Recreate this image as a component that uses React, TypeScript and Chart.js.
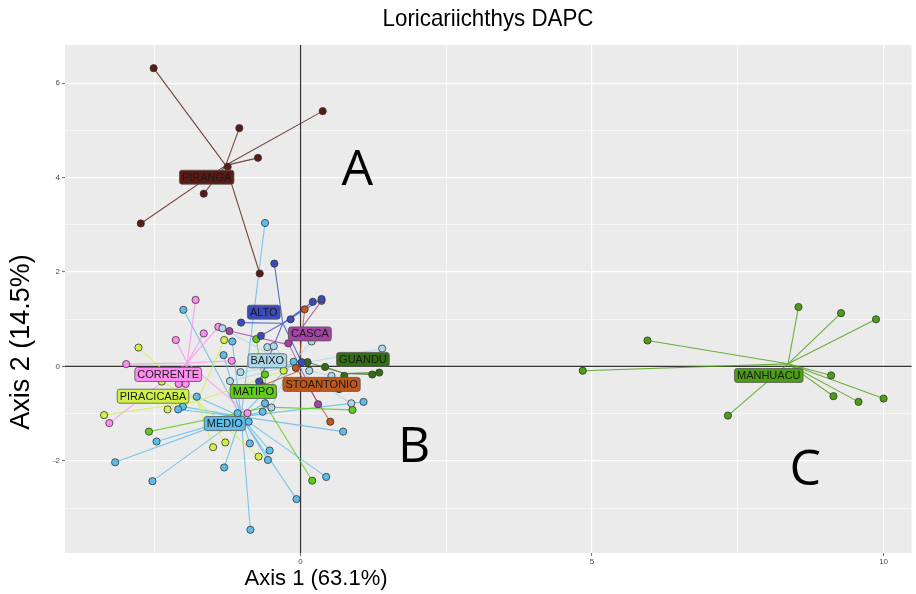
import { useEffect, useRef } from 'react';
import { Chart, registerables } from 'chart.js';

Chart.register(...registerables);

// ---------------- data ----------------
const GROUPS = ['PIRANGA', 'ALTO', 'CASCA', 'GUANDU', 'BAIXO', 'STOANTONIO', 'CORRENTE', 'MATIPO', 'PIRACICABA', 'MEDIO', 'MANHUACU'];

const PIRANGA_X = [-2.52, 0.38, -1.05, -0.73, -1.25, -1.66, -2.74, -0.70];
const PIRANGA_Y = [6.32, 5.41, 5.05, 4.42, 4.23, 3.66, 3.03, 1.97];
const ALTO_X = [-0.45, 0.36, 0.21, -0.17, -1.02, -0.68, 0.02, -0.71];
const ALTO_Y = [2.18, 1.43, 1.37, 1.00, 0.93, 0.65, 0.09, -0.32];
const CASCA_X = [0.36, -1.22, -0.21, 0.30];
const CASCA_Y = [1.39, 0.75, 0.49, -0.80];
const GUANDU_X = [0.12, 0.42, 0.75, 0.66, 1.23, 1.35];
const GUANDU_Y = [0.09, -0.01, -0.20, -0.48, -0.17, -0.13];
const BAIXO_X = [-1.34, -0.57, -0.46, 0.19, -1.03, -0.50, 0.87, 1.40, 0.15, -1.21, 0.53];
const BAIXO_Y = [0.81, 0.41, 0.43, 0.53, -0.12, -0.87, -0.78, 0.38, -0.09, -0.31, -0.20];
const STOANTONIO_X = [0.07, 0.51, -0.08, -0.66];
const STOANTONIO_Y = [1.21, -1.17, -0.03, -0.41];
const CORRENTE_X = [-1.80, -1.66, -1.41, -2.14, -2.99, -1.18, -2.09, -1.97, -3.28, -0.91];
const CORRENTE_Y = [1.41, 0.70, 0.84, 0.56, 0.05, 0.12, -0.37, -0.37, -1.20, -0.99];
const MATIPO_X = [-0.76, -0.61, -2.60, 0.89, 0.20];
const MATIPO_Y = [0.58, -0.17, -1.38, -0.92, -2.42];
const PIRACICABA_X = [-2.78, -1.31, -0.29, -3.37, -2.28, -1.50, -1.29, -0.72, -2.38];
const PIRACICABA_Y = [0.40, 0.56, -0.09, -1.03, -0.91, -1.71, -1.61, -1.91, -0.32];
const MEDIO_X = [-0.61, -2.01, -1.17, -1.32, -1.78, -2.02, -2.10, -1.08, -0.89, -0.65, -0.61, -0.12, 0.73, 1.08, -2.47, -3.18, -2.54, -1.31, -0.87, -0.53, -0.56, -0.07, 0.44, -0.86];
const MEDIO_Y = [3.04, 1.20, 0.53, 0.24, -0.64, -0.85, -0.91, -0.99, -1.17, -0.96, -0.78, 0.10, -1.38, -0.75, -1.59, -2.03, -2.43, -2.14, -1.63, -1.78, -1.98, -2.81, -2.34, -3.46];
const MANHUACU_X = [4.84, 5.95, 8.54, 9.27, 9.87, 9.10, 9.14, 9.57, 10.00, 7.33];
const MANHUACU_Y = [-0.09, 0.55, 1.26, 1.13, 1.00, -0.19, -0.63, -0.75, -0.68, -1.04];

const LABEL_X = [-1.61, -0.63, 0.16, 1.07, -0.57, 0.36, -2.27, -0.81, -2.53, -1.30, 8.03];
const LABEL_Y = [4.01, 1.15, 0.69, 0.15, 0.12, -0.38, -0.17, -0.53, -0.63, -1.21, -0.19];

const X_TICKS = [-2.5, 0, 2.5, 5, 7.5, 10];
const X_LABELED = [0, 5, 10];
const Y_TICKS = [-3, -2, -1, 0, 1, 2, 3, 4, 5, 6];
const Y_LABELED = [-2, 0, 2, 4, 6];

const TITLE = 'Loricariichthys DAPC';
const X_TITLE = 'Axis 1 (63.1%)';
const Y_TITLE = 'Axis 2 (14.5%)';
const ANNOT_TEXT = ['A', 'B', 'C'];
const ANNOT_X = [0.974, 1.947, 8.654];
const ANNOT_Y = [3.845, -2.017, -2.51];

// ---------------- styles ----------------
const COLORS = ['#5b1a14', '#3a4bbd', '#a643a6', '#336e14', '#add8ea', '#c0581c', '#ff8cf0', '#5fcc16', '#d0f248', '#5cbcea', '#4c9e12'];
const FONT = '"Liberation Sans", Arial, sans-serif';
const BIG_FONT = '"Open Sans", "Noto Sans", sans-serif';

const SERIES_X = [PIRANGA_X, ALTO_X, CASCA_X, GUANDU_X, BAIXO_X, STOANTONIO_X, CORRENTE_X, MATIPO_X, PIRACICABA_X, MEDIO_X, MANHUACU_X];
const SERIES_Y = [PIRANGA_Y, ALTO_Y, CASCA_Y, GUANDU_Y, BAIXO_Y, STOANTONIO_Y, CORRENTE_Y, MATIPO_Y, PIRACICABA_Y, MEDIO_Y, MANHUACU_Y];

function hexA(hex: string, a: number) {
  const n = parseInt(hex.slice(1), 16);
  return `rgba(${(n >> 16) & 255},${(n >> 8) & 255},${n & 255},${a})`;
}

export default function App() {
  const ref = useRef<HTMLCanvasElement | null>(null);

  useEffect(() => {
    const canvas = ref.current;
    if (!canvas) return;

    const lineSets: any[] = [];
    const pointSets: any[] = [];
    GROUPS.forEach((g, i) => {
      const xs = SERIES_X[i];
      const ys = SERIES_Y[i];
      const pts = xs.map((x, k) => ({ x, y: ys[k] }));
      const cx = xs.reduce((a, b) => a + b, 0) / xs.length;
      const cy = ys.reduce((a, b) => a + b, 0) / ys.length;
      const star: any[] = [];
      pts.forEach((p) => {
        star.push({ x: cx, y: cy });
        star.push(p);
      });
      lineSets.push({
        label: g + ' links',
        data: star,
        showLine: true,
        borderColor: hexA(COLORS[i], 0.8),
        borderWidth: 1.1,
        borderJoinStyle: 'round',
        pointRadius: 0,
        pointHoverRadius: 0,
        tension: 0,
        order: 2,
      });
      pointSets.push({
        label: g,
        data: pts,
        pointRadius: 3.6,
        pointHoverRadius: 3.6,
        pointBackgroundColor: COLORS[i],
        pointBorderColor: '#333333',
        pointBorderWidth: 0.8,
        showLine: false,
        order: 1,
      });
    });

    const deco = {
      id: 'deco',
      beforeDraw(chart: any) {
        const { ctx, chartArea: a } = chart;
        ctx.save();
        ctx.fillStyle = '#ffffff';
        ctx.fillRect(0, 0, chart.width, chart.height);
        ctx.fillStyle = '#ebebeb';
        ctx.fillRect(a.left, a.top, a.right - a.left, a.bottom - a.top);
        ctx.restore();
      },
      beforeDatasetsDraw(chart: any) {
        const { ctx, chartArea: a, scales } = chart;
        const x0 = scales.x.getPixelForValue(0);
        const y0 = scales.y.getPixelForValue(0);
        ctx.save();
        ctx.strokeStyle = '#333333';
        ctx.lineWidth = 1.2;
        ctx.beginPath();
        ctx.moveTo(x0, a.top);
        ctx.lineTo(x0, a.bottom);
        ctx.moveTo(a.left, y0);
        ctx.lineTo(a.right, y0);
        ctx.stroke();
        ctx.restore();
      },
      afterDatasetsDraw(chart: any) {
        const { ctx, scales } = chart;
        ctx.save();
        ctx.font = `11px ${FONT}`;
        ctx.textAlign = 'center';
        ctx.textBaseline = 'middle';
        GROUPS.forEach((g, i) => {
          const px = scales.x.getPixelForValue(LABEL_X[i]);
          const py = scales.y.getPixelForValue(LABEL_Y[i]);
          const tw = ctx.measureText(g).width;
          const w = tw + 5;
          const h = 14;
          ctx.beginPath();
          ctx.roundRect(px - w / 2, py - h / 2, w, h, 2.5);
          ctx.fillStyle = COLORS[i];
          ctx.fill();
          ctx.strokeStyle = '#555555';
          ctx.lineWidth = 0.8;
          ctx.stroke();
          ctx.fillStyle = '#1a1a1a';
          ctx.fillText(g, px, py + 0.5);
        });
        ctx.font = `50px ${BIG_FONT}`;
        ctx.fillStyle = '#000000';
        ctx.textBaseline = 'alphabetic';
        ANNOT_TEXT.forEach((t, i) => {
          ctx.fillText(t, scales.x.getPixelForValue(ANNOT_X[i]), scales.y.getPixelForValue(ANNOT_Y[i]));
        });
        ctx.restore();
      },
      afterDraw(chart: any) {
        const { ctx } = chart;
        ctx.save();
        ctx.fillStyle = '#000000';
        ctx.textAlign = 'center';
        ctx.textBaseline = 'middle';
        ctx.save();
        ctx.translate(488, 19);
        ctx.scale(0.93, 1);
        ctx.font = `24px ${FONT}`;
        ctx.fillText(TITLE, 0, 0);
        ctx.restore();
        ctx.save();
        ctx.translate(316, 579);
        ctx.font = `22px ${FONT}`;
        ctx.fillText(X_TITLE, 0, 0);
        ctx.restore();
        ctx.save();
        ctx.translate(22, 342);
        ctx.rotate(-Math.PI / 2);
        ctx.font = `27px ${FONT}`;
        ctx.fillText(Y_TITLE, 0, 0);
        ctx.restore();
        ctx.restore();
      },
    };

    const chart = new Chart(canvas, {
      type: 'scatter',
      data: { datasets: [...pointSets, ...lineSets] },
      options: {
        animation: false,
        responsive: false,
        maintainAspectRatio: false,
        events: [],
        layout: { padding: { left: 0, right: 3, top: 45, bottom: 0 } },
        plugins: {
          legend: { display: false },
          tooltip: { enabled: false },
          title: { display: false },
        },
        scales: {
          x: {
            type: 'linear',
            min: -4.04,
            max: 10.48,
            afterBuildTicks: (s: any) => {
              s.ticks = X_TICKS.map((v) => ({ value: v }));
            },
            afterFit: (s: any) => {
              s.height = 41;
            },
            border: { display: false },
            grid: {
              color: '#ffffff',
              lineWidth: (c: any) => (X_LABELED.includes(c.tick?.value) ? 1.2 : 0.6),
              tickLength: 3,
              tickWidth: 0.8,
              tickColor: (c: any) => (X_LABELED.includes(c.tick?.value) ? '#444444' : 'rgba(0,0,0,0)'),
            },
            ticks: {
              autoSkip: false,
              maxRotation: 0,
              padding: 1,
              color: '#4d4d4d',
              font: { size: 8, family: FONT },
              callback: (v: any) => (X_LABELED.includes(Number(v)) ? String(v) : ''),
            },
          },
          y: {
            type: 'linear',
            min: -3.952,
            max: 6.811,
            afterBuildTicks: (s: any) => {
              s.ticks = Y_TICKS.map((v) => ({ value: v }));
            },
            afterFit: (s: any) => {
              s.width = 65;
            },
            border: { display: false },
            grid: {
              color: '#ffffff',
              lineWidth: (c: any) => (Y_LABELED.includes(c.tick?.value) ? 1.2 : 0.6),
              tickLength: 3,
              tickWidth: 0.8,
              tickColor: (c: any) => (Y_LABELED.includes(c.tick?.value) ? '#444444' : 'rgba(0,0,0,0)'),
            },
            ticks: {
              autoSkip: false,
              padding: 2,
              color: '#4d4d4d',
              font: { size: 8, family: FONT },
              callback: (v: any) => (Y_LABELED.includes(Number(v)) ? String(v) : ''),
            },
          },
        },
      },
      plugins: [deco],
    } as any);

    let alive = true;
    if ((document as any).fonts && (document as any).fonts.load) {
      (document as any).fonts.load(`50px ${BIG_FONT}`).then(() => {
        if (alive) chart.update();
      }).catch(() => {});
    }

    return () => {
      alive = false;
      chart.destroy();
    };
  }, []);

  return (
    <div style={{ position: 'fixed', left: 0, top: 0, width: 916, height: 594, background: '#fff' }}>
      <canvas ref={ref} width={916} height={594} style={{ width: 916, height: 594, display: 'block' }} />
    </div>
  );
}
